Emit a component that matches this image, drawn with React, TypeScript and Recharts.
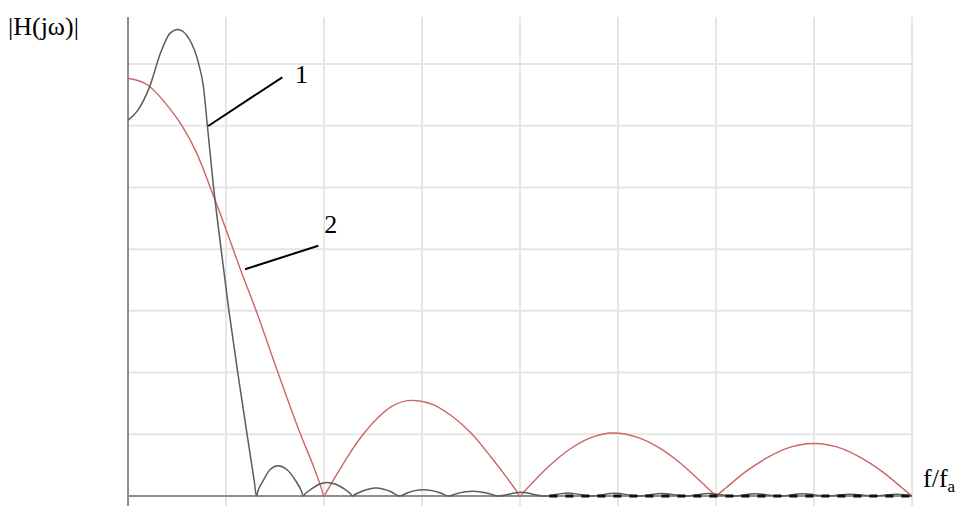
import React from 'react';
import { LineChart, Line, XAxis, YAxis, ReferenceLine, ReferenceDot } from 'recharts';

// curve 2 (red): [f/fa, |H|]
const curve2: [number, number][] = [
  [0, 6.77], [0.2, 6.66], [0.4, 6.33], [0.55, 6.0], [0.7, 5.56], [0.84, 5.0], [1.0, 4.32],
  [1.15, 3.66], [1.32, 2.95], [1.53, 2.0], [1.76, 1.0], [1.9, 0.45], [1.97, 0.14], [2.0, 0],
  [2.03, 0.08], [2.1, 0.27], [2.25, 0.66], [2.4, 1.0], [2.55, 1.27], [2.7, 1.46], [2.9, 1.55],
  [3.1, 1.49], [3.3, 1.3], [3.5, 1.02], [3.7, 0.64], [3.85, 0.33], [3.96, 0.09], [4.0, 0],
  [4.04, 0.07], [4.1, 0.17], [4.3, 0.49], [4.5, 0.75], [4.7, 0.93], [4.95, 1.02], [5.2, 0.95],
  [5.4, 0.8], [5.6, 0.58], [5.8, 0.3], [5.9, 0.15], [5.96, 0.06], [6.0, 0], [6.04, 0.05],
  [6.1, 0.13], [6.3, 0.39], [6.5, 0.6], [6.7, 0.76], [7.0, 0.85], [7.3, 0.76], [7.5, 0.6],
  [7.7, 0.39], [7.9, 0.13], [7.96, 0.05], [8.0, 0],
];

// curve 1 (black)
const curve1: [number, number][] = [
  [0, 6.09], [0.1, 6.25], [0.22, 6.63], [0.33, 7.17], [0.43, 7.5], [0.51, 7.56], [0.63, 7.39],
  [0.72, 7.01], [0.77, 6.63], [0.81, 6.0], [0.87, 5.05], [0.95, 4.0], [1.03, 3.0], [1.12, 2.0],
  [1.215, 1.0], [1.29, 0.22], [1.31, 0],
  [1.33, 0.1], [1.38, 0.25], [1.45, 0.43], [1.53, 0.49], [1.62, 0.43], [1.71, 0.25], [1.77, 0.08], [1.79, 0],
  [1.81, 0.04], [1.87, 0.11], [1.95, 0.19], [2.03, 0.22], [2.12, 0.19], [2.21, 0.11], [2.27, 0.035], [2.29, 0],
  [2.31, 0.02], [2.37, 0.065], [2.45, 0.11], [2.53, 0.13], [2.61, 0.11], [2.69, 0.065], [2.77, 0],
  [2.85, 0.05], [2.93, 0.087], [3.02, 0.1], [3.1, 0.087], [3.19, 0.05], [3.27, 0],
  [3.35, 0.038], [3.43, 0.065], [3.52, 0.075], [3.6, 0.065], [3.69, 0.038], [3.77, 0],
  [4.01, 0.06], [4.25, 0], [4.49, 0.05], [4.73, 0], [4.97, 0.045], [5.21, 0], [5.45, 0.04],
  [5.69, 0], [5.93, 0.04], [6.17, 0], [6.41, 0.035], [6.65, 0], [6.89, 0.035], [7.13, 0],
  [7.37, 0.03], [7.61, 0], [7.85, 0.03], [8.0, 0],
];

// the dashed run along the axis at the tail of curve 1
const tail: [number, number][] = [[4.3, 0], [8.0, 0]];

const xGrid = [1, 2, 3, 4, 5, 6, 7, 8];
const yGrid = [1, 2, 3, 4, 5, 6, 7];

// leader lines for the curve numbers: from point on curve to label
const leaders = [
  { name: '1', from: { x: 0.819, y: 5.996 }, to: { x: 1.574, y: 6.785 }, label: { x: 1.77, y: 6.84 } },
  { name: '2', from: { x: 1.194, y: 3.674 }, to: { x: 1.942, y: 4.056 }, label: { x: 2.07, y: 4.41 } },
];

const toRows = (pts: [number, number][]) => pts.map(([x, y]) => ({ x, y }));

const serif = "'Liberation Serif', 'DejaVu Serif', serif";

export default function App() {
  return (
    <div style={{ position: 'absolute', left: 0, top: 0, width: 960, height: 506, background: '#fff' }}>
      <LineChart width={960} height={506} margin={{ top: 17, right: 48, bottom: 0, left: 128 }}>
        <XAxis type="number" dataKey="x" domain={[0, 8]} hide allowDuplicatedCategory={false} />
        <YAxis type="number" domain={[-0.162, 7.762]} hide />
        {yGrid.map((v) => (
          <ReferenceLine key={'h' + v} y={v} stroke="#e6e6e6" strokeWidth={2} />
        ))}
        {xGrid.map((v) => (
          <ReferenceLine key={'v' + v} x={v} stroke="#e6e6e6" strokeWidth={2} />
        ))}
        <ReferenceLine y={0} stroke="#8e8e8e" strokeWidth={2} />
        <ReferenceLine x={0} stroke="#8e8e8e" strokeWidth={2} />
        <Line
          data={toRows(curve2)}
          dataKey="y"
          type="monotone"
          stroke="#cc6464"
          strokeWidth={1.4}
          dot={false}
          isAnimationActive={false}
        />
        <Line
          data={toRows(curve1)}
          dataKey="y"
          type="monotone"
          stroke="#5c5c5c"
          strokeWidth={1.5}
          dot={false}
          isAnimationActive={false}
        />
        <Line
          data={toRows(tail)}
          dataKey="y"
          type="linear"
          stroke="#111"
          strokeWidth={3}
          strokeDasharray="8 8"
          dot={false}
          isAnimationActive={false}
        />
        {leaders.map((l) => (
          <ReferenceLine key={'l' + l.name} segment={[l.from, l.to]} stroke="#000" strokeWidth={2} />
        ))}
        {leaders.map((l) => (
          <ReferenceDot
            key={'d' + l.name}
            x={l.label.x}
            y={l.label.y}
            r={0}
            fill="none"
            stroke="none"
            label={{ value: l.name, position: 'center', fill: '#000', fontSize: 26, style: { fontFamily: serif } }}
          />
        ))}
      </LineChart>
      <svg width={960} height={506} style={{ position: 'absolute', left: 0, top: 0, pointerEvents: 'none' }}>
        <text x={8} y={35} fontSize={26} style={{ fontFamily: serif }} fill="#000">|H(jω)|</text>
        <text x={923} y={487} fontSize={26} style={{ fontFamily: serif }} fill="#000">
          f/f<tspan fontSize={17} dy={5}>a</tspan>
        </text>
      </svg>
    </div>
  );
}
